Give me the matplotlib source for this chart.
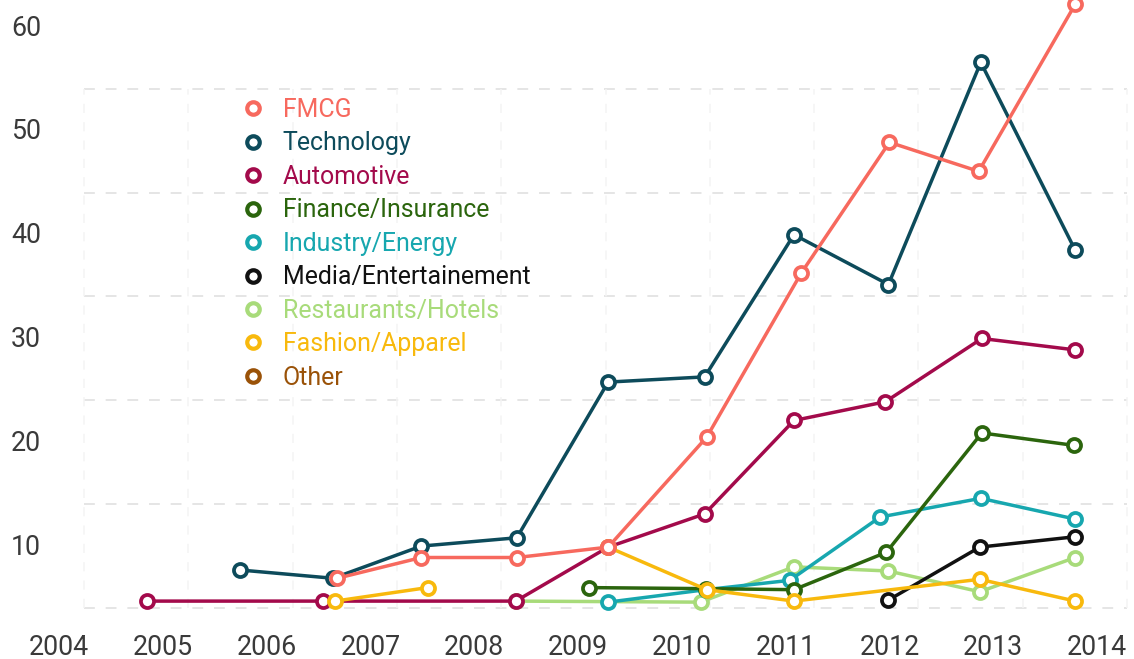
import matplotlib
matplotlib.use("Agg")
import matplotlib.pyplot as plt
import numpy as np
from matplotlib.lines import Line2D

plt.rcParams['font.family'] = ['Roboto', 'DejaVu Sans']

# ---------------- data (x = decimal year, y = value) ----------------
fmcg_x = [2006.68, 2007.49, 2008.41, 2009.29, 2010.24, 2011.15, 2012.00, 2012.86, 2013.79]
fmcg_y = [6.7, 8.7, 8.7, 9.7, 20.3, 36.1, 48.7, 45.9, 62.0]

tech_x = [2005.74, 2006.64, 2007.49, 2008.41, 2009.29, 2010.22, 2011.08, 2011.99, 2012.88, 2013.79]
tech_y = [7.5, 6.7, 9.8, 10.6, 25.6, 26.1, 39.8, 35.0, 56.4, 38.3]

auto_x = [2004.85, 2006.54, 2008.40, 2009.29, 2010.22, 2011.08, 2011.96, 2012.89, 2013.79]
auto_y = [4.5, 4.5, 4.5, 9.7, 12.9, 21.9, 23.7, 29.8, 28.7]

fin_x = [2009.11, 2010.23, 2011.08, 2011.97, 2012.89, 2013.78]
fin_y = [5.8, 5.7, 5.6, 9.2, 20.7, 19.5]

ind_x = [2009.29, 2010.23, 2011.04, 2011.91, 2012.88, 2013.79]
ind_y = [4.4, 5.6, 6.5, 12.6, 14.4, 12.4]

media_x = [2011.99, 2012.87, 2013.79]
media_y = [4.6, 9.7, 10.7]

rest_x = [2008.40, 2010.18, 2011.08, 2011.99, 2012.87, 2013.79]
rest_y = [4.5, 4.4, 7.8, 7.4, 5.4, 8.7]

fash_x = [2006.66, 2007.55, 2008.40, 2009.29, 2010.24, 2011.08, 2012.87, 2013.79]
fash_y = [4.5, 5.8, np.nan, 9.7, 5.6, 4.5, 6.6, 4.5]

other_x = []
other_y = []

names = ["FMCG", "Technology", "Automotive", "Finance/Insurance", "Industry/Energy",
         "Media/Entertainement", "Restaurants/Hotels", "Fashion/Apparel", "Other"]
colors = ["#F7695E", "#0D4B5B", "#A30A4B", "#2B650D", "#17A7AF",
          "#111111", "#A8DB7A", "#F8B90D", "#9A5208"]
xs = [fmcg_x, tech_x, auto_x, fin_x, ind_x, media_x, rest_x, fash_x, other_x]
ys = [fmcg_y, tech_y, auto_y, fin_y, ind_y, media_y, rest_y, fash_y, other_y]

x_ticks = list(range(2004, 2015))
y_ticks = [10, 20, 30, 40, 50, 60]

# drawing order, bottom -> top (indices into names)
draw_order = [6, 4, 5, 3, 1, 2, 7, 0, 8]

# ---------------- figure ----------------
W, H = 1134, 659
fig = plt.figure(figsize=(W / 100, H / 100), dpi=100)
ax = fig.add_axes([50 / W, 1 - 612 / H, (1134 - 50) / W, 612 / H])

x_lo, x_hi = 2003.913, 2014.356
y_lo, y_hi = 3.45, 62.41
ax.set_xlim(x_lo, x_hi)
ax.set_ylim(y_lo, y_hi)

# grid (offset plot-area grid, as in the original)
g_x0, g_x1 = 2004.241, 2014.289
g_y0, g_y1 = 3.85, 53.85
ax.hlines(np.linspace(g_y0, g_y1, 6), g_x0, g_x1, colors="#e3e3e3",
          linestyles=(0, (6, 6)), linewidth=1.3, zorder=0)
ax.vlines(np.linspace(g_x0, g_x1, 11), g_y0, g_y1, colors="#f4f4f4",
          linestyles=(0, (6, 6)), linewidth=1.1, zorder=0)

for z, i in enumerate(draw_order):
    if len(xs[i]) == 0:
        continue
    ax.plot(xs[i], ys[i], color=colors[i], linewidth=2.5, marker="o",
            markersize=9.4, markerfacecolor="white", markeredgewidth=2.7,
            markeredgecolor=colors[i], zorder=2 + z, clip_on=False)

for s in ax.spines.values():
    s.set_visible(False)
ax.set_xticks(x_ticks)
ax.set_xticklabels([str(t) for t in x_ticks])
ax.set_yticks(y_ticks)
ax.set_yticklabels([str(t) for t in y_ticks])
ax.tick_params(axis="x", length=0, pad=15.5, labelsize=19.3, labelcolor="#3a3a3a")
ax.tick_params(axis="y", length=0, pad=6.5, labelsize=19.3, labelcolor="#3a3a3a")

handles = [Line2D([], [], color=c, marker="o", linestyle="none", markersize=9.0,
                  markerfacecolor="white", markeredgewidth=3.0, markeredgecolor=c)
           for c in colors]
ax.legend(handles, names, loc="upper left",
          bbox_to_anchor=(243 / W, 1 - 98 / H), bbox_transform=fig.transFigure,
          frameon=False, fontsize=17.9, labelcolor=colors, handlelength=0.8,
          handletextpad=0.8, labelspacing=0.38, borderpad=0, borderaxespad=0)

fig.savefig("out.png", dpi=100)
